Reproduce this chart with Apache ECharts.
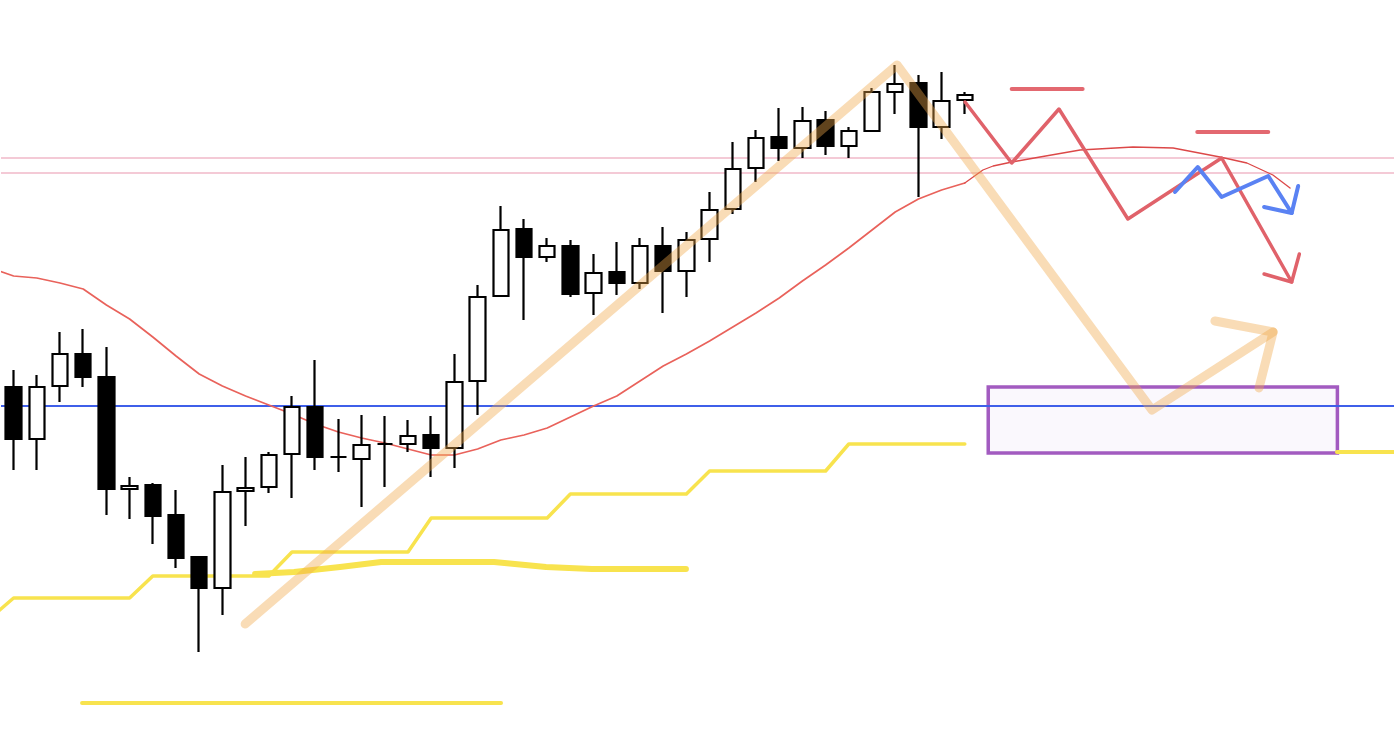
<!DOCTYPE html>
<html>
<head>
<meta charset="utf-8">
<script src="https://cdn.jsdelivr.net/npm/echarts@6/dist/echarts.min.js"></script>
<style>html,body{margin:0;padding:0;background:#fff;}#chart{width:1394px;height:756px;}</style>
</head>
<body>
<div id="chart"></div>
<script>
// ---- data ----
const categories = ['1','2','3','4','5','6','7','8','9','10','11','12','13','14','15','16','17','18','19','20',
  '21','22','23','24','25','26','27','28','29','30','31','32','33','34','35','36','37','38','39','40',
  '41','42','43','44','45','46','47','48','49','50','51','52','53','54','55','56','57','58','59','60'];

// [open, close, low, high]
const candles = [
  [151.69,151.17,150.86,151.86],[151.17,151.69,150.86,151.81],[151.70,152.02,151.54,152.24],[152.02,151.79,151.69,152.27],
  [151.79,150.67,150.41,152.09],[150.67,150.70,150.37,150.79],[150.71,150.40,150.12,150.73],[150.41,149.98,149.88,150.66],
  [149.99,149.68,149.04,150.00],[149.68,150.64,149.41,150.91],[150.65,150.68,150.30,150.99],[150.69,151.01,150.63,151.04],
  [151.02,151.49,150.58,151.60],[151.49,150.99,150.86,151.96],[150.99,150.99,150.84,151.37],[150.97,151.11,150.49,151.41],
  [151.12,151.12,150.69,151.40],[151.12,151.20,151.04,151.36],[151.21,151.08,150.79,151.40],[151.08,151.74,150.88,152.02],
  [151.75,152.59,151.41,152.71],[152.60,153.26,152.59,153.50],[153.27,152.99,152.36,153.37],[152.99,153.10,152.94,153.18],
  [153.10,152.62,152.59,153.16],[152.63,152.83,152.41,153.02],[152.84,152.73,152.61,153.14],[152.73,153.10,152.67,153.18],
  [153.10,152.85,152.43,153.29],[152.85,153.16,152.59,153.24],[153.17,153.46,152.94,153.64],[153.47,153.87,153.42,154.14],
  [153.88,154.18,153.74,154.26],[154.19,154.08,153.95,154.48],[154.08,154.35,153.98,154.49],[154.36,154.10,154.01,154.45],
  [154.10,154.25,153.98,154.29],[154.25,154.64,154.24,154.68],[154.64,154.72,154.42,154.91],[154.73,154.29,153.59,154.81],
  [154.29,154.55,154.17,154.84],[154.56,154.61,154.42,154.64]
];

// moving average (one value per candle) and its value one bar before the first candle
const maLead = 152.88;
const maValues = [152.80,152.78,152.73,152.67,152.51,152.37,152.19,152.00,151.82,151.70,151.60,151.51,151.42,151.32,
  151.24,151.18,151.13,151.07,151.01,151.01,151.07,151.16,151.21,151.28,151.39,151.50,151.60,151.75,151.90,152.02,
  152.15,152.29,152.43,152.58,152.75,152.91,153.08,153.26,153.44,153.57,153.66,153.73];

// higher-timeframe step line (one value per candle)
const stepLead = 149.38;
const stepValues = [149.58,149.58,149.58,149.58,149.58,149.58,149.80,149.80,149.80,149.80,149.80,149.80,
  150.04,150.04,150.04,150.04,150.04,150.04,150.38,150.38,150.38,150.38,150.38,150.38,
  150.62,150.62,150.62,150.62,150.62,150.62,150.85,150.85,150.85,150.85,150.85,150.85,
  151.12,151.12,151.12,151.12,151.12,151.12];

// horizontal levels
const pinkLevels = [153.98, 153.83];
const blueLevel = 151.50;

// hand-drawn annotations: [bar index, price]
const maArc = [[41.0,153.73],[41.78,153.86],[42.22,153.90],[43.03,153.94],[44.24,153.99],[45.97,154.06],[48.25,154.09],
  [49.98,154.08],[52.00,153.99],[53.16,153.93],[54.28,153.81],[55.02,153.68]];
const thickYellow = [[10.41,149.82],[12.09,149.84],[14.07,149.89],[15.84,149.94],[20.71,149.94],[22.95,149.89],[24.93,149.87],[28.98,149.87]];
const lowYellow = [[2.95,148.53],[21.01,148.53]];
const rightYellow = [[57.04,151.04],[59.6,151.04]];
const orangePath = [[9.98,149.32],[38.08,154.91],[49.07,151.46],[54.29,152.24]];
const orangeHead = [[51.78,152.35],[54.29,152.24],[53.68,151.68]];
const redPath = [[41.01,154.54],[43.02,153.93],[45.06,154.47],[48.03,153.37],[52.07,153.98],[55.09,152.74]];
const redHead = [[53.90,152.82],[55.09,152.74],[55.42,153.02]];
const redBarA = [[43.02,154.67],[46.08,154.67]];
const redBarB = [[51.02,154.24],[54.08,154.24]];
const bluePath = [[50.06,153.64],[51.04,153.89],[52.07,153.59],[54.08,153.80],[55.09,153.43]];
const blueHead = [[53.90,153.49],[55.09,153.43],[55.37,153.70]];
const zoneBox = [[42.01,151.69],[57.06,151.03]];
const xLeft = -0.6, xRight = 59.6;

// ---- chart ----
function line(data, color, width, z, extra) {
  return Object.assign({
    type: 'line', xAxisIndex: 1, yAxisIndex: 0, data: data, symbol: 'none', showSymbol: false,
    clip: false, silent: true, z: z, animation: false,
    lineStyle: { color: color, width: width, cap: 'round', join: 'round' }
  }, extra || {});
}

const maData = [[-1, maLead]].concat(maValues.map((v, i) => [i, v]));
const stepData = [[-1, stepLead]].concat(stepValues.map((v, i) => [i, v]));
const levelSeries = pinkLevels.map(v => line([[xLeft, v], [xRight, v]], '#f1b8c8', 1.5, 1));

const chart = echarts.init(document.getElementById('chart'), null, { renderer: 'canvas' });
chart.setOption({
  backgroundColor: '#ffffff',
  animation: false,
  grid: { left: 2, right: 0, top: 0, bottom: 0 },
  xAxis: [
    { type: 'category', data: categories, show: false, boundaryGap: true },
    { type: 'value', min: -0.5, max: 59.5, show: false }
  ],
  yAxis: [{ type: 'value', min: 148, max: 155.56, show: false, scale: true }],
  series: levelSeries.concat([
    {
      type: 'line', xAxisIndex: 1, data: [], silent: true, z: 1,
      markArea: {
        silent: true,
        itemStyle: { color: 'rgba(238,232,250,0.3)', borderColor: '#a25bc0', borderWidth: 3.5 },
        data: [[{ coord: zoneBox[0] }, { coord: zoneBox[1] }]]
      }
    },
    line([[xLeft, blueLevel], [xRight, blueLevel]], '#3f5fe9', 2, 2),
    line(stepData, '#f8e34e', 3.5, 3),
    line(thickYellow, '#f8e34e', 6, 3),
    line(lowYellow, '#f8e34e', 4, 3),
    line(rightYellow, '#f8e34e', 4, 3),
    line(maData, '#e9625b', 1.7, 4),
    line(maArc, '#dc4848', 1.3, 4),
    {
      type: 'candlestick', xAxisIndex: 0, yAxisIndex: 0, data: candles, barWidth: 16, z: 5, silent: true,
      itemStyle: {
        color: '#ffffff', color0: '#000000', borderColor: '#000000', borderColor0: '#000000',
        borderColorDoji: '#000000', borderWidth: 2.2
      }
    },
    line(orangePath, 'rgba(240,168,72,0.4)', 9, 6),
    line(orangeHead, 'rgba(240,168,72,0.4)', 9, 6),
    line(redPath, '#e0626a', 3.5, 7),
    line(redHead, '#e0626a', 3.5, 7),
    line(redBarA, '#e36870', 4, 7),
    line(redBarB, '#e36870', 4, 7),
    line(bluePath, '#5a82f3', 4, 8),
    line(blueHead, '#5a82f3', 4, 8)
  ])
});
</script>
</body>
</html>
